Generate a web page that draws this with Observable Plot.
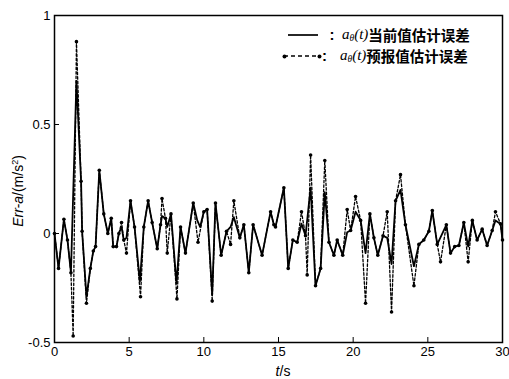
<!DOCTYPE html>
<html>
<head>
<meta charset="utf-8">
<script src="https://cdn.jsdelivr.net/npm/d3@7"></script>
<script src="https://cdn.jsdelivr.net/npm/@observablehq/plot@0.6"></script>
<style>
  html, body { margin: 0; padding: 0; background: #fff; }
  #wrap { position: relative; width: 509px; height: 379px; overflow: hidden; font-family: "Liberation Sans", Arial, sans-serif; }
  .ov { position: absolute; white-space: nowrap; color: #000; }
  .row { display: flex; align-items: center; height: 15px; line-height: 15px; }
  .row > span { display: inline-block; height: 15px; line-height: 15px; overflow: visible; }
  .cjk { font-family: "Noto Sans CJK SC", sans-serif; font-weight: 700; font-size: 14.5px; }
  .it { font-family: "Liberation Serif", serif; font-style: italic; font-size: 15px; }
  .row > span.sub { font-family: "Liberation Serif", serif; font-style: italic; font-size: 9.5px; height: 9px; line-height: 9px; position: relative; top: 4px; }
</style>
</head>
<body>
<div id="wrap"></div>
<script>
// ---- data ----
const tCur = [0, 0.27, 0.63, 0.87, 1.10, 1.47, 1.78, 1.85, 2.14, 2.40, 2.60, 2.75, 3.00, 3.30, 3.57, 3.80, 3.93, 4.15, 4.31, 4.49, 4.64, 4.82, 5.09, 5.36, 5.72, 5.98, 6.27, 6.54, 6.88, 7.10, 7.20, 7.43, 7.55, 7.80, 8.17, 8.44, 8.77, 9.29, 9.56, 9.75, 10.00, 10.22, 10.56, 10.78, 11.16, 11.52, 11.79, 12.01, 12.41, 12.68, 13.01, 13.30, 13.90, 14.47, 14.69, 14.80, 15.36, 15.65, 15.96, 16.25, 16.54, 16.81, 17.15, 17.48, 17.82, 18.10, 18.38, 18.71, 18.93, 19.30, 19.60, 19.83, 20.16, 20.50, 20.83, 21.12, 21.39, 21.65, 22.00, 22.28, 22.57, 22.84, 23.17, 23.50, 24.07, 24.40, 24.73, 25.07, 25.30, 25.63, 26.24, 26.52, 26.80, 27.08, 27.41, 27.70, 27.98, 28.30, 28.64, 28.97, 29.31, 29.53, 29.87, 30.00];
const errCur = [0, -0.16, 0.065, -0.03, -0.18, 0.70, 0.24, 0.01, -0.29, -0.16, -0.08, -0.06, 0.29, 0.09, 0.00, 0.07, -0.06, -0.06, 0.00, 0.03, -0.03, -0.02, 0.15, 0.03, -0.22, 0.03, 0.15, 0.05, -0.07, 0.04, 0.08, 0.07, 0.03, 0.09, -0.23, 0.03, -0.09, 0.14, 0.06, 0.03, 0.10, 0.11, -0.28, 0.14, -0.10, 0.01, 0.03, 0.075, -0.02, 0.04, -0.18, 0.04, -0.10, 0.10, 0.04, 0.03, 0.21, -0.16, -0.03, -0.04, 0.045, -0.01, 0.21, -0.24, -0.16, 0.19, -0.04, -0.10, -0.03, -0.10, 0.006, 0.014, 0.10, 0.06, -0.09, 0.09, -0.02, -0.10, -0.01, -0.02, -0.14, 0.15, 0.20, 0.04, -0.15, -0.05, -0.03, 0.01, 0.105, -0.05, 0.04, -0.09, -0.06, -0.055, 0.05, -0.06, 0.06, -0.03, 0.02, -0.055, 0.014, 0.06, 0.044, -0.03];

const tPred = [0, 0.27, 0.63, 0.87, 1.10, 1.25, 1.47, 1.78, 1.85, 2.14, 2.40, 2.60, 2.75, 3.00, 3.30, 3.57, 3.80, 3.93, 4.15, 4.31, 4.49, 4.64, 4.82, 5.09, 5.36, 5.76, 5.98, 6.27, 6.54, 6.88, 7.10, 7.20, 7.43, 7.55, 7.80, 8.20, 8.44, 8.77, 9.29, 9.61, 10.00, 10.22, 10.56, 10.78, 11.16, 11.52, 11.79, 12.01, 12.41, 12.68, 13.01, 13.30, 13.90, 14.47, 14.69, 14.80, 15.36, 15.65, 15.96, 16.25, 16.54, 16.81, 16.92, 17.15, 17.48, 17.82, 18.10, 18.38, 18.71, 18.93, 19.30, 19.60, 19.83, 20.16, 20.50, 20.83, 21.12, 21.39, 21.65, 22.00, 22.28, 22.57, 22.84, 23.17, 23.50, 24.07, 24.40, 24.73, 25.07, 25.30, 25.63, 25.85, 26.24, 26.52, 26.80, 27.08, 27.41, 27.70, 27.98, 28.30, 28.64, 28.97, 29.31, 29.53, 29.87, 30.00];
const errPred = [0, -0.16, 0.065, -0.03, -0.18, -0.47, 0.88, 0.24, 0.01, -0.32, -0.16, -0.08, -0.06, 0.29, 0.09, 0.00, 0.07, -0.06, -0.06, 0.00, 0.05, -0.03, -0.09, 0.15, 0.03, -0.29, 0.03, 0.15, 0.05, -0.07, 0.04, 0.16, 0.07, -0.09, 0.09, -0.30, 0.03, -0.09, 0.14, -0.04, 0.10, 0.11, -0.31, 0.14, -0.10, 0.01, -0.05, 0.15, -0.02, 0.04, -0.18, 0.04, -0.10, 0.10, 0.04, 0.03, 0.21, -0.16, -0.03, -0.04, 0.10, -0.01, -0.19, 0.36, -0.24, -0.16, 0.335, -0.04, -0.10, -0.03, -0.10, 0.11, 0.014, 0.17, 0.06, -0.32, 0.09, -0.02, -0.10, -0.01, 0.10, -0.36, 0.15, 0.27, 0.04, -0.24, -0.05, -0.03, 0.01, 0.105, -0.05, -0.13, 0.04, -0.09, -0.06, -0.055, 0.05, -0.13, 0.06, -0.03, 0.02, -0.055, 0.014, 0.10, 0.044, -0.03];

const xTicks = [0, 5, 10, 15, 20, 25, 30];
const yTicks = [-0.5, 0, 0.5, 1];
const yTickLabels = ["-0.5", "0", "0.5", "1"];

const cur = tCur.map((t, i) => ({t, v: errCur[i]}));
const pred = tPred.map((t, i) => ({t, v: errPred[i]}));

const chart = Plot.plot({
  width: 509,
  height: 379,
  marginLeft: 54,
  marginRight: 7,
  marginTop: 15,
  marginBottom: 37,
  x: {domain: [0, 30]},
  y: {domain: [-0.5, 1]},
  style: {fontFamily: "'Liberation Sans', Arial, sans-serif", fontSize: "13px", color: "#000", background: "#fff"},
  marks: [
    Plot.axisX({ticks: xTicks, tickSize: -5, tickPadding: 9, tickFormat: d => String(d), label: null}),
    Plot.axisY({ticks: yTicks, tickSize: -5, tickPadding: 9, tickFormat: d => yTickLabels[yTicks.indexOf(d)], label: null}),
    Plot.line(pred, {x: "t", y: "v", stroke: "#000", strokeWidth: 1.3, strokeDasharray: "2.5,2"}),
    Plot.line(cur, {x: "t", y: "v", stroke: "#000", strokeWidth: 1.8}),
    Plot.dot(pred, {x: "t", y: "v", r: 1.8, fill: "#000"}),
    Plot.frame({stroke: "#000", strokeWidth: 1.5})
  ]
});

const wrap = document.getElementById("wrap");
wrap.appendChild(chart);

function ov(html, css, cls) {
  const d = document.createElement("div");
  d.className = "ov" + (cls ? " " + cls : "");
  d.innerHTML = html;
  Object.assign(d.style, css);
  wrap.appendChild(d);
  return d;
}

// legend
const sym = '<span class="it">a</span><span class="sub">θ</span><span class="it">(t)</span>';
ov('<svg width="38" height="10"><line x1="4" y1="5" x2="34" y2="5" stroke="#000" stroke-width="1.7"/></svg>' +
   '<span style="font-size:15px;width:20px;text-align:center;font-weight:bold">:</span>' + sym + '<span class="cjk">当前值估计误差</span>',
   {left: "284px", top: "27px"}, "row");
ov('<svg width="40" height="10"><line x1="2" y1="5" x2="38" y2="5" stroke="#000" stroke-width="1.3" stroke-dasharray="4,3"/><circle cx="2.5" cy="5.5" r="2" fill="#000"/><circle cx="37.5" cy="5.5" r="2" fill="#000"/></svg>' +
   '<span style="font-size:15px;width:18px;text-align:left;font-weight:bold">:</span>' + sym + '<span class="cjk">预报值估计误差</span>',
   {left: "282px", top: "48px"}, "row");

// axis titles
ov('<span style="font-style:italic">Err-a</span>/(m/s<sup style="font-size:9px">2</sup>)',
   {left: "18px", top: "191px", fontSize: "14px", transform: "translate(-50%,-50%) rotate(-90deg)"});
ov('<span style="font-style:italic">t</span>/s',
   {left: "283px", top: "371px", fontSize: "14px", transform: "translate(-50%,-50%)"});
</script>
</body>
</html>
